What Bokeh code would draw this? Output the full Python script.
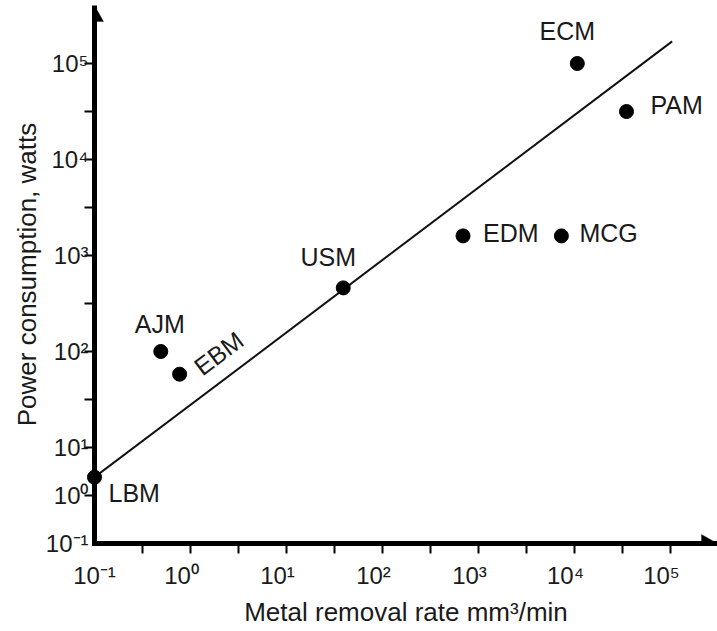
import math
from bokeh.plotting import figure
from bokeh.models import Range1d, FixedTicker, ColumnDataSource, PolyAnnotation
from bokeh.core.properties import value
from bokeh.embed import file_html
from bokeh.resources import INLINE

# ---- data ----
processes = ["LBM", "AJM", "EBM", "USM", "EDM", "MCG", "ECM", "PAM"]
removal_rate = [0.1, 0.49, 0.77, 39, 690, 7300, 10700, 34800]      # mm^3/min
power = [2.4, 100, 58, 460, 1600, 1600, 100000, 31600]             # watts

trend_rate = [0.1, 1.04e5]
trend_power = [2.4, 1.7e5]

x_decades = [-1, 0, 1, 2, 3, 4, 5]
y_decades = [-1, 0, 1, 2, 3, 4, 5]
SUP = {-1: "\u207b\u00b9", 0: "\u2070", 1: "\u00b9", 2: "\u00b2", 3: "\u00b3",
       4: "\u2074", 5: "\u2075"}

x_title = "Metal removal rate mm\u00b3/min"
y_title = "Power consumption, watts"

# ---- style / layout ----
FONT = "Liberation Sans"
TXT = "#1a1a1a"
W, H = 717, 631
LEFT, TOP, BOTTOM = 94, 5, 88
PX = 96            # pixels per decade
XLABEL_SHIFT = 9   # x tick labels sit slightly left of their tick (as in the reference)


def ypos(v):
    """The reference's power axis: logarithmic, but the decades below 10^1
    are drawn at half height."""
    l = math.log10(v)
    return l if l >= 1 else 1 + (l - 1) / 2


x0 = 10.0 ** x_decades[0]
y0 = ypos(10.0 ** y_decades[0])
x_end = 10 ** (x_decades[0] + (W - LEFT) / PX)
y_end = (H - TOP - BOTTOM) / PX

p = figure(width=W, height=H, x_axis_type="log",
           x_range=Range1d(x0, x_end), y_range=Range1d(y0, y_end),
           output_backend="svg", toolbar_location=None,
           min_border_left=LEFT, min_border_right=0,
           min_border_top=TOP, min_border_bottom=BOTTOM)
p.outline_line_color = None
p.xgrid.visible = False
p.ygrid.visible = False
p.background_fill_color = None
p.border_fill_color = "white"

# ticks: visible marks are the (minor) tick lines, labels come from the
# (invisible) major ticks
x_label_at = [max(x0, 10.0 ** (d - XLABEL_SHIFT / PX)) for d in x_decades]
x_marks = [10.0 ** (d + h) for d in x_decades for h in (0.5, 1.0) if d + h <= x_decades[-1]]
y_label_at = [ypos(10.0 ** d) for d in y_decades]
y_marks = [ypos(10.0 ** d) for d in y_decades[1:]] + \
          [ypos(10.0 ** (d + 0.5)) for d in y_decades if 1 <= d < y_decades[-1]]

p.xaxis.ticker = FixedTicker(ticks=x_label_at, minor_ticks=x_marks)
p.yaxis.ticker = FixedTicker(ticks=y_label_at, minor_ticks=y_marks)
p.xaxis.major_label_overrides = {t: "10" + SUP[d] for t, d in zip(x_label_at, x_decades)}
p.yaxis.major_label_overrides = {t: "10" + SUP[d] for t, d in zip(y_label_at, y_decades)}

for ax in (p.xaxis, p.yaxis):
    ax.axis_line_color = None
    ax.major_tick_line_color = None
    ax.major_tick_out = 0
    ax.major_tick_in = 0
    ax.minor_tick_line_color = "black"
    ax.minor_tick_line_width = 2
    ax.minor_tick_out = 10
    ax.minor_tick_in = 0
    ax.major_label_text_font = FONT
    ax.major_label_text_font_size = "24px"
    ax.major_label_text_color = TXT
    ax.axis_label_text_font = FONT
    ax.axis_label_text_font_size = "26px"
    ax.axis_label_text_font_style = "normal"
    ax.axis_label_text_color = TXT

p.xaxis.major_label_standoff = 8
p.xaxis.axis_label_standoff = 5
p.yaxis.major_label_standoff = -4
p.yaxis.axis_label_standoff = 1
p.xaxis.axis_label = x_title
p.yaxis.axis_label = y_title

# heavy axis lines along the range edges
p.line([x0, x0], [y0, y_end], line_width=5, line_color="black", level="annotation")
p.line([x0, x_end], [y0, y0], line_width=5, line_color="black", line_cap="square",
       level="annotation")

# axis arrow heads (half width 9 px, length 16 px)
hw, hl = 9 / PX, 16 / PX
p.add_layout(PolyAnnotation(xs=[x0 * 10 ** -hw, x0, x0 * 10 ** hw],
                            ys=[y_end - hl, y_end, y_end - hl],
                            fill_color="black", fill_alpha=1, line_color="black", line_width=1))
p.add_layout(PolyAnnotation(xs=[x_end * 10 ** -hl, x_end, x_end * 10 ** -hl],
                            ys=[y0 - hw, y0, y0 + hw],
                            fill_color="black", fill_alpha=1, line_color="black", line_width=1))

# trend line
p.line(trend_rate, [ypos(v) for v in trend_power], line_width=2, line_color="#111111")

# points
src = ColumnDataSource(dict(rate=removal_rate, pos=[ypos(v) for v in power], name=processes))
p.scatter(x="rate", y="pos", size=14, color="black", source=src, level="annotation")

# point labels: (dx, dy, align, angle)
label_place = {
    "LBM": (14, 16, "left", 0),
    "AJM": (-1, -28, "center", 0),
    "EBM": (39, -21, "center", 37),
    "USM": (-15, -31, "center", 0),
    "EDM": (20, -3, "left", 0),
    "MCG": (18, -3, "left", 0),
    "ECM": (-10, -33, "center", 0),
    "PAM": (24, -7, "left", 0),
}
for name, rate, pw in zip(processes, removal_rate, power):
    dx, dy, align, ang = label_place[name]
    p.text(x=[rate], y=[ypos(pw)], text=[name], x_offset=dx, y_offset=dy,
           angle=math.radians(ang), text_align=align, text_baseline="middle",
           text_font=value(FONT), text_font_size="25px", text_color=TXT)

open("out.html", "w").write(file_html(p, INLINE))
